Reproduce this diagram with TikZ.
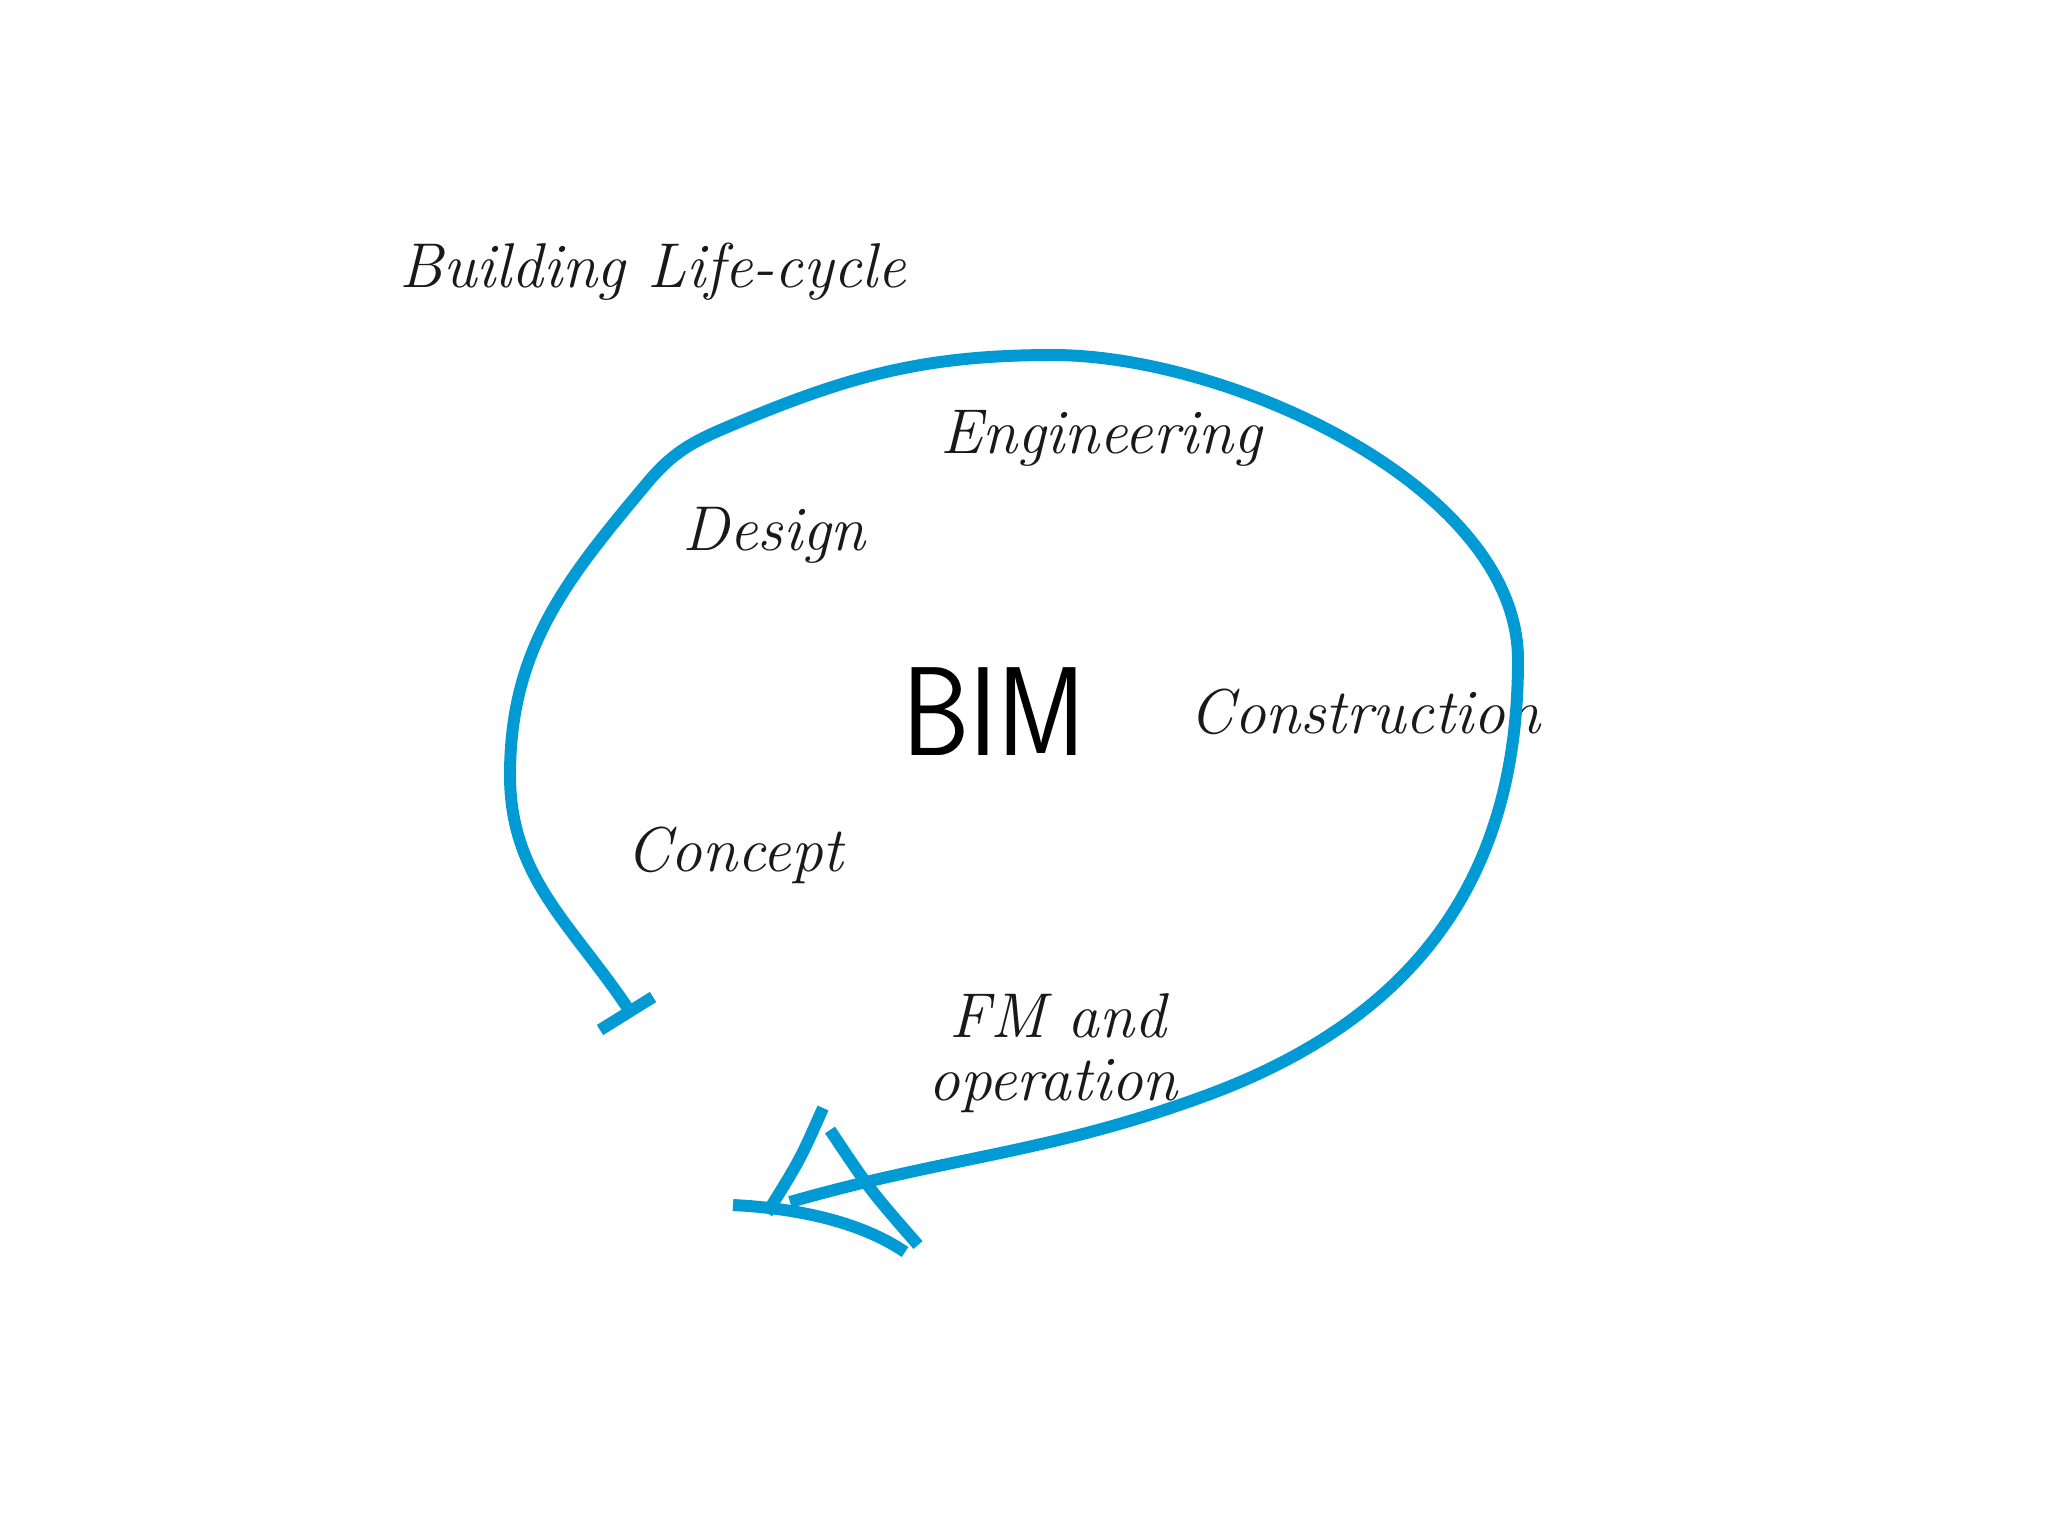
\documentclass[tikz,border=0pt]{standalone}
\usepackage{fontspec}
\definecolor{loopblue}{RGB}{0,155,213}
\tikzset{
  lbl/.style={font=\fontsize{18}{21}\selectfont\itshape, text=black!90, inner sep=0pt},
  stroke/.style={draw=loopblue, line width=3.4pt, line cap=butt, line join=round}
}
\begin{document}
\begin{tikzpicture}[x=0.01cm,y=-0.01cm]
\useasboundingbox[fill=white] (0,0) rectangle (2048,1536);
% texts
\node[lbl] (title) at (653,272) {Building Life-cycle};
\node[lbl] (eng) at (1101,438) {Engineering};
\node[lbl] (des) at (774,535) {Design};
\node[font=\fontsize{36}{40}\selectfont\sffamily, inner sep=0pt] (bim) at (994,712) {\scalebox{0.85}[1]{BIM}};
\node[lbl] (con) at (1365,712) {Construction};
\node[lbl] (cpt) at (735,855) {Concept};
\node[lbl] (fm1) at (1058,1016) {FM and};
\node[lbl] (fm2) at (1053,1086) {operation};
% loop
\coordinate (s) at (627,1007);
\coordinate (e) at (790,1202);
\draw[stroke] (s) to[out=124,in=-90] (510,775)
  to[out=90,in=230] (648,482)
  to[out=50,in=203] (725,428)
  to[out=23,in=180] (1053,355)
  to[out=0,in=90,looseness=0.8] (1518,660)
  .. controls (1518,855) and (1437,1012) .. (1202,1097)
  to[out=-160,in=16] (e);
% start tick
\draw[stroke] (600,1030) -- (653,997);
% arrow head strokes
\draw[stroke] (823,1108) .. controls (800,1160) .. (767,1213);
\draw[stroke] (733,1205) .. controls (830,1210) and (880,1235) .. (905,1252);
\draw[stroke] (830,1130) .. controls (870,1190) .. (918,1245);
\end{tikzpicture}
\end{document}
